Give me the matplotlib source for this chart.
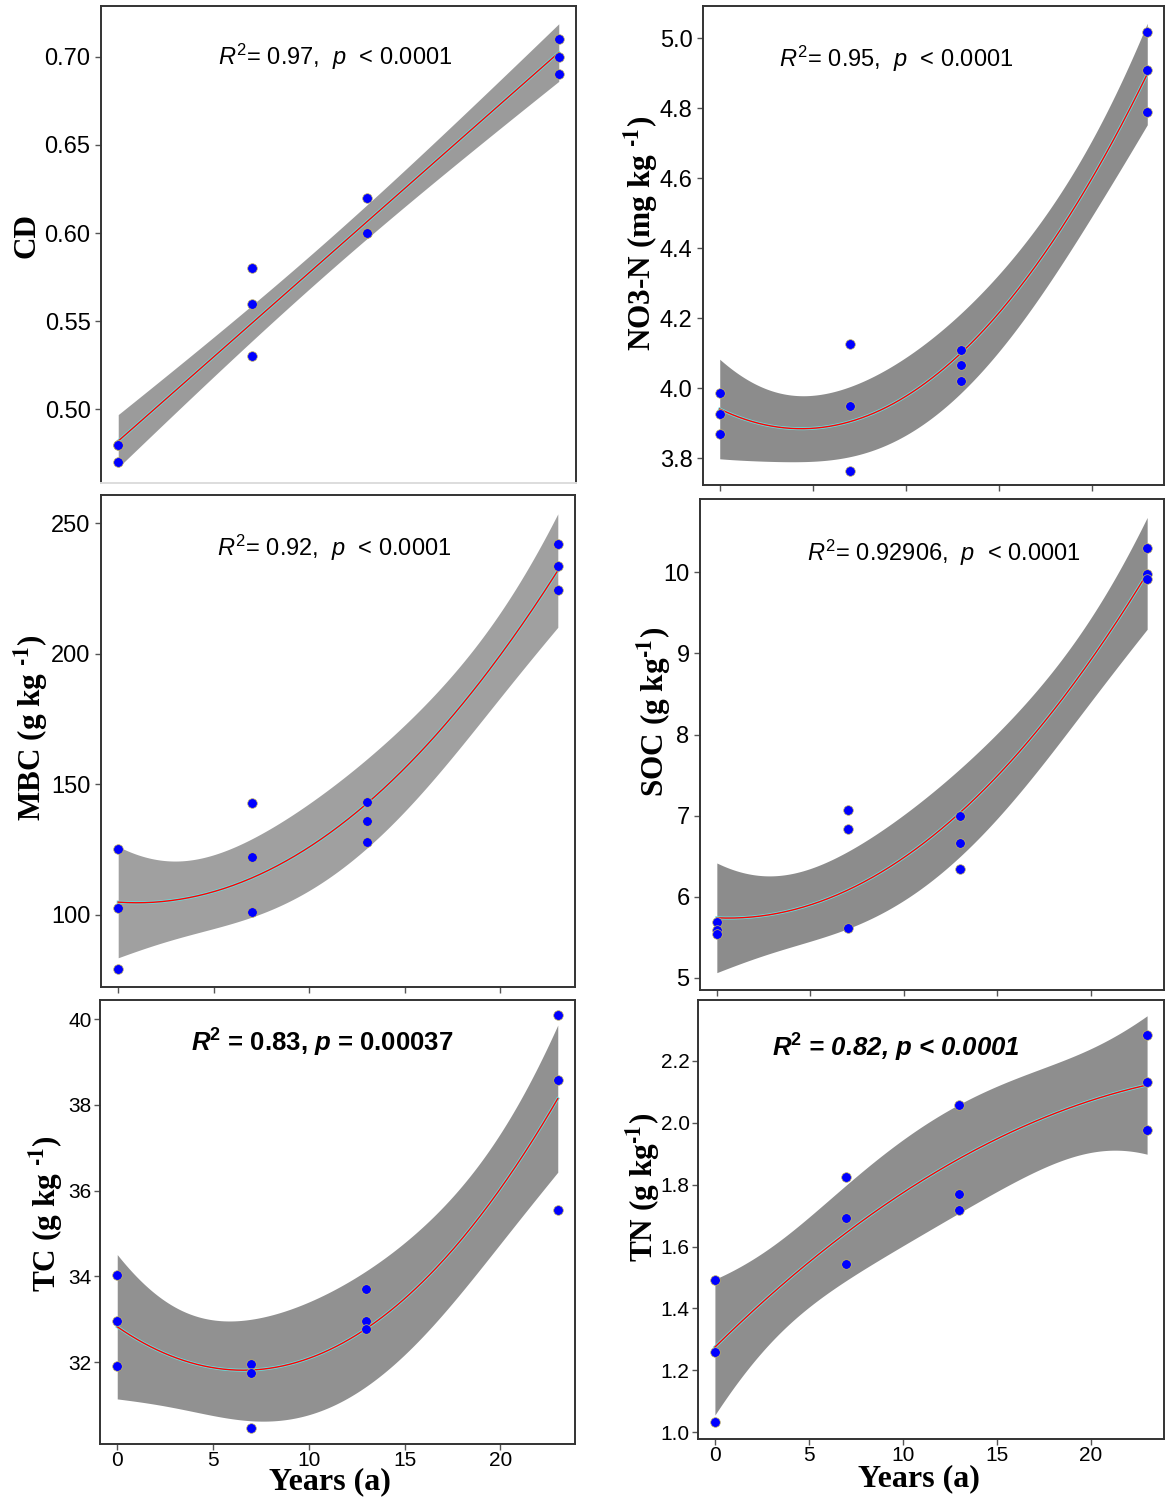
import numpy as np
import matplotlib
matplotlib.use("Agg")
import matplotlib.pyplot as plt

W, H = 1170, 1499

plt.rcParams['font.family'] = ['Liberation Sans', 'DejaVu Sans']
plt.rcParams['mathtext.fontset'] = 'custom'
plt.rcParams['mathtext.rm'] = 'Liberation Sans'
plt.rcParams['mathtext.it'] = 'Liberation Sans:italic'
plt.rcParams['mathtext.bf'] = 'Liberation Sans:bold'
plt.rcParams['mathtext.bfit'] = 'Liberation Sans:italic:bold'

# sampling years (3 replicates per year)
years = [0, 0, 0, 7, 7, 7, 13, 13, 13, 23, 23, 23]

cd = [0.48, 0.48, 0.47, 0.58, 0.56, 0.53, 0.62, 0.60, 0.60, 0.71, 0.70, 0.69]
no3 = [3.986, 3.926, 3.871, 4.127, 3.949, 3.763, 4.110, 4.067, 4.021, 5.018, 4.909, 4.789]
mbc = [125.1, 102.8, 79.2, 142.8, 122.1, 101.3, 143.4, 135.9, 128.1, 241.9, 233.6, 224.4]
soc = [5.686, 5.590, 5.538, 7.075, 6.836, 5.620, 6.997, 6.668, 6.348, 10.30, 9.975, 9.918]
tc = [34.02, 32.96, 31.90, 31.96, 31.75, 30.45, 33.71, 32.96, 32.77, 40.09, 38.58, 35.54]
tn = [1.492, 1.259, 1.033, 1.825, 1.692, 1.545, 2.057, 1.769, 1.717, 2.283, 2.131, 1.976]

stats_text = [
    r'$R^2$= 0.97,  $p$  < 0.0001',
    r'$R^2$= 0.95,  $p$  < 0.0001',
    r'$R^2$= 0.92,  $p$  < 0.0001',
    r'$R^2$= 0.92906,  $p$  < 0.0001',
    r'$\mathbfit{R}^{\mathbf{2}}$ = 0.83, $\mathbfit{p}$ = 0.00037',
    r'$\mathbfit{R}^{\mathbf{2}}$ = 0.82, $\mathbfit{p}$ < 0.0001',
]

HY = '\u2010'
ylabels = [
    'CD',
    r'NO3-N (mg kg $^{\mathbf{' + HY + '1}}$)',
    r'MBC (g kg $^{\mathbf{' + HY + '1}}$)',
    r'SOC (g kg$^{\mathbf{' + HY + '1}}$)',
    r'TC (g kg $^{\mathbf{' + HY + '1}}$)',
    r'TN (g kg$^{\mathbf{' + HY + '1}}$)',
]


def px_axes(fig, l, t, r, b):
    return fig.add_axes([l / W, 1 - b / H, (r - l) / W, (b - t) / H])


def fit_band(x, y, xs, deg):
    x = np.asarray(x, float)
    y = np.asarray(y, float)
    X = np.vander(x, deg + 1)
    beta, *_ = np.linalg.lstsq(X, y, rcond=None)
    resid = y - X @ beta
    dof = len(x) - (deg + 1)
    s2 = resid @ resid / dof
    cov = s2 * np.linalg.inv(X.T @ X)
    Xs = np.vander(xs, deg + 1)
    yhat = Xs @ beta
    se = np.sqrt(np.sum((Xs @ cov) * Xs, axis=1))
    tval = {9: 2.262, 10: 2.228}[dof]
    return yhat, yhat - tval * se, yhat + tval * se


fig = plt.figure(figsize=(W / 100, H / 100), dpi=100)

panels = [
    # data, box px, ylim, yticks, fmt, band colour, degree, show x labels
    (cd, (101, 6, 576, 483), (0.4582, 0.7288), np.arange(0.50, 0.71, 0.05), '%.2f', '#9b9b9b', 1, False),
    (no3, (703, 6, 1164, 485), (3.724, 5.092), np.arange(3.8, 5.01, 0.2), '%.1f', '#8c8c8c', 2, False),
    (mbc, (101, 495, 575, 987), (72.4, 260.8), [100, 150, 200, 250], '%d', '#a0a0a0', 2, False),
    (soc, (700, 499, 1164, 990), (4.852, 10.903), [5, 6, 7, 8, 9, 10], '%d', '#8c8c8c', 2, False),
    (tc, (100, 1000, 575, 1444), (30.086, 40.45), [32, 34, 36, 38, 40], '%d', '#919191', 2, True),
    (tn, (698, 1000, 1164, 1439), (0.978, 2.397), np.arange(1.0, 2.21, 0.2), '%.1f', '#8e8e8e', 2, True),
]

text_pos = [(335, 57), (896, 59), (334, 548), (944, 553), (322, 1043), (896, 1048)]
ylab_pos = [(27, 236), (641, 233), (31, 728), (654, 712), (46, 1214), (643, 1187)]
xlab_pos = [(330, 1482), (919, 1479)]

xs = np.linspace(0, 23, 200)
xl = 0

for i, (vals, box, ylim, yt, fmt, bandc, deg, showx) in enumerate(panels):
    ax = px_axes(fig, *box)
    yhat, lo, hi = fit_band(years, vals, xs, deg)
    ax.fill_between(xs, lo, hi, color=bandc, lw=0, zorder=1)
    ax.plot(xs, yhat, color='#66dddd', lw=2.2, zorder=2)
    ax.plot(xs, yhat, color='red', lw=1.0, zorder=3)
    ax.scatter(years, vals, s=48, color='#0000ff', edgecolors='#c8b860',
               linewidths=0.5, zorder=4)
    ax.set_xlim(-0.9, 23.9)
    ax.set_ylim(*ylim)
    ax.set_yticks(yt)
    ax.set_yticklabels([fmt % v for v in yt])
    ax.set_xticks([0, 5, 10, 15, 20])
    for s in ax.spines.values():
        s.set_color('#333333')
        s.set_linewidth(1.4)
    if i == 0:
        ax.spines['bottom'].set_color('#dddddd')
    ax.tick_params(direction='out', length=4, width=1, color='#555555')
    if showx:
        narrow = ['Liberation Sans Narrow', 'Liberation Sans']
        for lab in ax.get_xticklabels() + ax.get_yticklabels():
            lab.set_family(narrow)
            lab.set_fontsize(15)
        ax.tick_params(axis='x', pad=1)
        ax.tick_params(axis='y', pad=2)
        fig.text(xlab_pos[xl][0] / W, 1 - xlab_pos[xl][1] / H, 'Years (a)',
                 family='Liberation Serif', weight='bold', fontsize=23,
                 ha='center', va='center')
        xl += 1
    else:
        ax.set_xticklabels([])
        for lab in ax.get_yticklabels():
            lab.set_fontsize(17)
    if i == 0:
        ax.tick_params(axis='x', length=0)

    tx, ty = text_pos[i]
    if i < 4:
        fig.text(tx / W, 1 - ty / H, stats_text[i], fontsize=17,
                 ha='center', va='center')
    elif i == 4:
        fig.text(tx / W, 1 - ty / H, stats_text[i], fontsize=18.5,
                 weight='bold', ha='center', va='center')
    else:
        fig.text(tx / W, 1 - ty / H, stats_text[i], fontsize=18.5,
                 weight='bold', style='italic', ha='center', va='center')

    lx, ly = ylab_pos[i]
    fig.text(lx / W, 1 - ly / H, ylabels[i], family='Liberation Serif',
             weight='bold', fontsize=22.5, rotation=90, ha='center', va='center',
             math_fontfamily='stix')

fig.savefig('out.png', dpi=100)
